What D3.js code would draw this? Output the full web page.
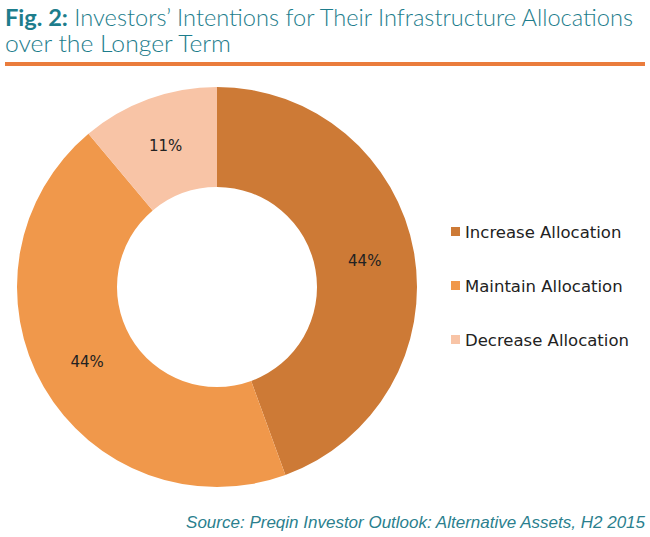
<!DOCTYPE html>
<html>
<head>
<meta charset="utf-8">
<script src="https://cdn.jsdelivr.net/npm/d3@7"></script>
<style>
  body { margin: 0; background: #fff; }
</style>
</head>
<body>
<script>
// Chart data
var categories = ["Increase Allocation", "Maintain Allocation", "Decrease Allocation"];
var shares = [44, 44, 11];
var colours = ["#cd7a36", "#f0984b", "#f8c4a6"];

var w = 650;
var h = 537;

var svg = d3.select("body").append("svg").attr("width", w).attr("height", h);

// Title
var title = svg.append("text")
  .attr("x", 5).attr("y", 26)
  .style("font-family", "Lato, 'Open Sans', sans-serif")
  .style("font-size", "23px")
  .style("fill", "#1d7d8c")
  .attr("textLength", 628).attr("lengthAdjust", "spacingAndGlyphs");
title.append("tspan").style("font-weight", "bold").text("Fig. 2:");
title.append("tspan").style("font-weight", "300").text(" Investors\u2019 Intentions for Their Infrastructure Allocations");

svg.append("text")
  .attr("x", 5).attr("y", 52)
  .style("font-family", "Lato, 'Open Sans', sans-serif")
  .style("font-size", "23px")
  .style("font-weight", "300")
  .style("fill", "#1d7d8c")
  .attr("textLength", 226).attr("lengthAdjust", "spacingAndGlyphs")
  .text("over the Longer Term");

// Orange rule under the title
svg.append("rect")
  .attr("x", 5).attr("y", 62).attr("width", 640).attr("height", 4)
  .style("fill", "#ea7c3c");

// Donut
var pie = d3.pie().sort(null).value(function(d) { return d; });
var arc = d3.arc().innerRadius(100).outerRadius(200);

var g = svg.append("g").attr("transform", "translate(217, 287)");

var slices = g.selectAll("g.slice").data(pie(shares)).enter().append("g").attr("class", "slice");

slices.append("path")
  .attr("d", arc)
  .style("fill", function(d, i) { return colours[i]; });

slices.append("text")
  .attr("transform", function(d) { return "translate(" + arc.centroid(d) + ")"; })
  .attr("dy", "0.35em")
  .style("text-anchor", "middle")
  .style("font-family", "'DejaVu Sans', sans-serif")
  .style("font-size", "15px")
  .style("fill", "#222")
  .text(function(d) { return d.data + "%"; });

// Legend
var legend = svg.selectAll("g.legend").data(categories).enter().append("g")
  .attr("class", "legend")
  .attr("transform", function(d, i) { return "translate(451, " + (232 + i * 54) + ")"; });

legend.append("rect")
  .attr("x", 0).attr("y", -5).attr("width", 9).attr("height", 9)
  .style("fill", function(d, i) { return colours[i]; });

legend.append("text")
  .attr("x", 14).attr("dy", "0.35em")
  .style("font-family", "'DejaVu Sans', sans-serif")
  .style("font-size", "16.5px")
  .style("fill", "#222")
  .text(function(d) { return d; });

// Source
svg.append("text")
  .attr("x", 645).attr("y", 528)
  .style("text-anchor", "end")
  .style("font-family", "'Liberation Sans', Arial, sans-serif")
  .style("font-style", "italic")
  .style("font-size", "17px")
  .style("fill", "#2b7f8e")
  .text("Source: Preqin Investor Outlook: Alternative Assets, H2 2015");
</script>
</body>
</html>
